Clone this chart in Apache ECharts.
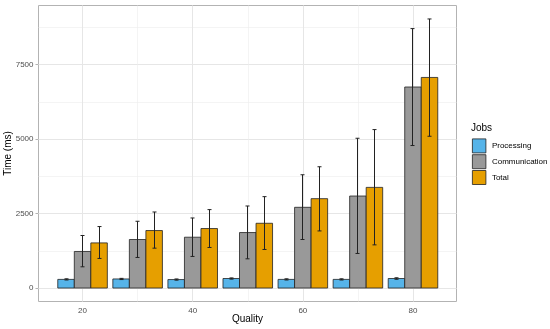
<!DOCTYPE html>
<html>
<head>
<meta charset="utf-8">
<script src="https://cdn.jsdelivr.net/npm/echarts@6/dist/echarts.min.js"></script>
<style>html,body{margin:0;padding:0;background:#fff;}#c{width:550px;height:329px;}</style>
</head>
<body>
<div id="c"></div>
<script>
const categories = [20, 30, 40, 50, 60, 70, 80];
const processing = [290, 305, 285, 320, 290, 290, 320];
const processingLow = [270, 285, 265, 300, 270, 270, 295];
const processingHigh = [310, 325, 305, 340, 310, 310, 345];
const communication = [1228, 1630, 1707, 1864, 2711, 3090, 6751];
const communicationLow = [713, 1027, 1061, 981, 1630, 1161, 4786];
const communicationHigh = [1764, 2242, 2353, 2755, 3804, 5030, 8712];
const total = [1516, 1931, 1998, 2175, 3002, 3380, 7072];
const totalLow = [994, 1339, 1362, 1295, 1918, 1450, 5097];
const totalHigh = [2065, 2554, 2634, 3069, 4073, 5321, 9036];
const xTickLabels = [20, 40, 60, 80];
const yTickLabels = [0, 2500, 5000, 7500];
const yMinorGrid = [1250, 3750, 6250, 8750];
const xMinorGrid = [30, 50, 70];

const seriesNames = ['Processing', 'Communication', 'Total'];
const colors = ['#56B4E9', '#999999', '#E69F00'];
const values = [processing, communication, total];
const lows = [processingLow, communicationLow, totalLow];
const highs = [processingHigh, communicationHigh, totalHigh];

const dodge = 3; // width of each bar in x units
const snap = v => Math.round(v - 0.5) + 0.5;
function barRender(idx) {
  return function (params, api) {
    const x = api.value(0), v = api.value(1);
    const c = x + (idx - 1) * dodge;
    const p1 = api.coord([c - dodge / 2, v]);
    const p0 = api.coord([c + dodge / 2, 0]);
    return {
      type: 'rect',
      shape: { x: p1[0], y: p1[1], width: p0[0] - p1[0], height: p0[1] - p1[1] },
      style: { fill: colors[idx], stroke: '#222', lineWidth: 0.8 }
    };
  };
}
function errRender(idx) {
  return function (params, api) {
    const x = api.value(0) + (idx - 1) * dodge;
    const lo = api.coord([x, api.value(1)]);
    const hi = api.coord([x, api.value(2)]);
    const cx = snap(lo[0]);
    const half = 2;
    const st = { stroke: '#222', lineWidth: 1 };
    return {
      type: 'group',
      children: [
        { type: 'line', shape: { x1: cx, y1: lo[1], x2: cx, y2: hi[1] }, style: st },
        { type: 'line', shape: { x1: cx - half, y1: lo[1], x2: cx + half, y2: lo[1] }, style: st },
        { type: 'line', shape: { x1: cx - half, y1: hi[1], x2: cx + half, y2: hi[1] }, style: st }
      ]
    };
  };
}

const series = [];
const gridLine = (w, c) => ({ color: c, width: w, type: 'solid' });
series.push({
  type: 'line', name: 'grid', data: [], silent: true, z: 0, zlevel: 0,
  markLine: {
    silent: true, symbol: 'none', label: { show: false }, animation: false,
    data: [
      ...yTickLabels.map(v => ({ yAxis: v, lineStyle: gridLine(1, '#e6e6e6') })),
      ...yMinorGrid.map(v => ({ yAxis: v, lineStyle: gridLine(0.6, '#ececec') })),
      ...xTickLabels.map(v => ({ xAxis: v, lineStyle: gridLine(1, '#e6e6e6') })),
      ...xMinorGrid.map(v => ({ xAxis: v, lineStyle: gridLine(0.6, '#ececec') }))
    ]
  }
});
for (let i = 0; i < 3; i++) {
  series.push({
    type: 'custom', name: seriesNames[i], z: 2, zlevel: 1,
    itemStyle: { color: colors[i], borderColor: '#222', borderWidth: 0.8 },
    renderItem: barRender(i),
    data: categories.map((c, k) => [c, values[i][k]])
  });
}
for (let i = 0; i < 3; i++) {
  series.push({
    type: 'custom', name: 'err' + i, z: 3, zlevel: 1,
    renderItem: errRender(i),
    data: categories.map((c, k) => [c, lows[i][k], highs[i][k]])
  });
}

const chart = echarts.init(document.getElementById('c'), null, { renderer: 'canvas' });
chart.setOption({
  animation: false,
  backgroundColor: '#fff',
  title: { text: 'Jobs', left: 471, top: 123, textStyle: { fontFamily: 'Liberation Sans', fontSize: 10, fontWeight: 'normal', color: '#000' }, padding: 0 },
  legend: {
    data: seriesNames, orient: 'vertical', left: 472, top: 138.5, padding: 0,
    itemWidth: 13.5, itemHeight: 14, itemGap: 1, icon: 'rect',
    itemStyle: { borderColor: '#222', borderWidth: 0.8 },
    textStyle: { fontFamily: 'Liberation Sans', fontSize: 8, color: '#000', padding: [0, 0, 0, 1] },
    selectedMode: false
  },
  grid: { left: 38.5, right: 93.5, top: 5.5, bottom: 27.5, show: true, borderColor: '#b3b3b3', borderWidth: 1, backgroundColor: 'transparent', outerBoundsMode: 'none', containLabel: false },
  xAxis: {
    type: 'value', min: 12, max: 87.9,
    name: 'Quality', nameLocation: 'middle', nameGap: 12.5, nameMoveOverlap: false,
    nameTextStyle: { fontFamily: 'Liberation Sans', fontSize: 10, color: '#000' },
    axisLine: { show: false },
    splitLine: { show: false },
    axisTick: { show: true, customValues: xTickLabels, length: 3, lineStyle: { color: '#b3b3b3' } },
    axisLabel: { customValues: xTickLabels, margin: 5, fontFamily: 'Liberation Sans', fontSize: 8, color: '#4d4d4d', formatter: v => String(v) }
  },
  yAxis: {
    type: 'value', min: -452, max: 9488,
    name: 'Time (ms)', nameLocation: 'middle', nameGap: 25, nameMoveOverlap: false,
    nameTextStyle: { fontFamily: 'Liberation Sans', fontSize: 10, color: '#000' },
    axisLine: { show: false },
    splitLine: { show: false },
    axisTick: { show: true, customValues: yTickLabels, length: 3, lineStyle: { color: '#b3b3b3' } },
    axisLabel: { customValues: yTickLabels, margin: 5, fontFamily: 'Liberation Sans', fontSize: 8, color: '#4d4d4d', formatter: v => String(v) }
  },
  series: series
});
</script>
</body>
</html>
